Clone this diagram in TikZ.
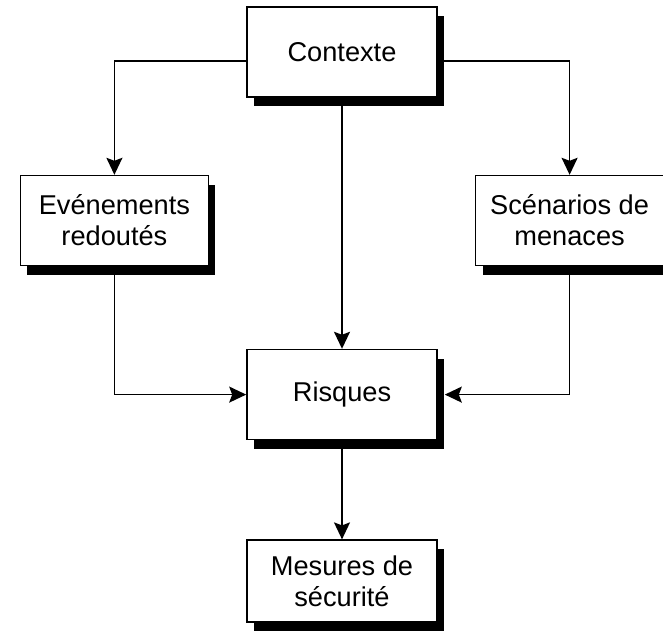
\documentclass[tikz,border=0pt]{standalone}
\usepackage{fontspec}
\setmainfont{Liberation Sans}
\usetikzlibrary{positioning,shadows,arrows.meta}

\tikzset{
    etape/.style={draw, fill=white, line width=0.8pt, align=center, inner sep=0pt,
        minimum width=95pt, minimum height=45pt,
        font=\fontsize{13.6}{15.5}\selectfont,
        drop shadow={shadow xshift=3.5pt, shadow yshift=-4.5pt, fill=black, opacity=1}},
    fleche/.style={line width=0.85pt, -{Stealth[length=8.5pt,width=8pt,inset=1.5pt]}}
}

\begin{document}
\begin{tikzpicture}
    \useasboundingbox (0,0) rectangle (331.5pt,-315.5pt);
    \node[etape] (ctx) at (171pt,-26pt) {Contexte};
    \node[etape, minimum width=94pt, below left=38.5pt and 18.5pt of ctx] (evt) {Evénements\\redoutés};
    \node[etape, minimum width=94pt, below right=38.5pt and 18.5pt of ctx] (scn) {Scénarios de\\menaces};
    \node[etape, below=125.5pt of ctx] (rsq) {Risques};
    \node[etape, minimum height=41pt, below=49.5pt of rsq] (mes) {Mesures de\\sécurité};

    \draw[fleche] ([yshift=-4.5pt]ctx.west) -| (evt.north);
    \draw[fleche] ([yshift=-4.5pt]ctx.east) -| (scn.north);
    \draw[fleche] (ctx.south) -- (rsq.north);
    \draw[fleche] (evt.south) |- (rsq.west);
    \draw[fleche] (scn.south) |- ([xshift=3.5pt]rsq.east);
    \draw[fleche] (rsq.south) -- (mes.north);
\end{tikzpicture}
\end{document}
